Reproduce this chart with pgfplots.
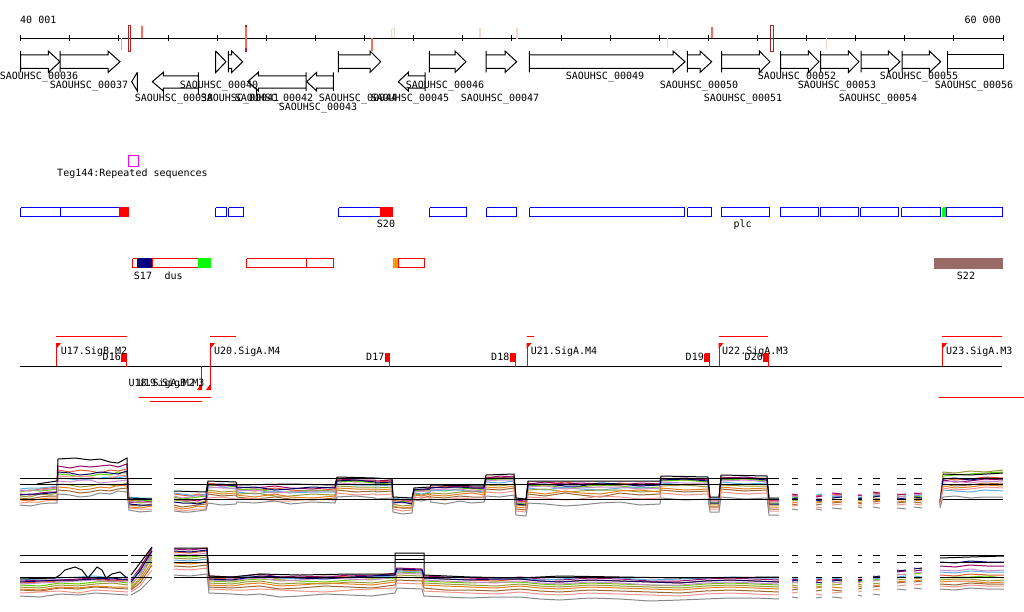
\documentclass[border=0pt]{standalone}
\usepackage{pgfplots}
\pgfplotsset{compat=1.18}
\usepackage{pgfplotstable}
\usepackage{fontspec}
\setmainfont{DejaVu Sans Mono}

\definecolor{dred}{HTML}{B22222}
\definecolor{salm}{HTML}{F26D5B}
\definecolor{lsalm}{HTML}{F5A08A}
\definecolor{pinkl}{HTML}{FAD4C8}
\definecolor{mag}{HTML}{FF00FF}
\definecolor{bluebx}{HTML}{0000FF}
\definecolor{navybx}{HTML}{000080}
\definecolor{grn}{HTML}{00FF00}
\definecolor{org}{HTML}{FF9900}
\definecolor{brn}{HTML}{9A6A66}
% expression series colours
\definecolor{q1}{HTML}{E4572E}
\definecolor{q2}{HTML}{66CC00}
\definecolor{q3}{HTML}{990066}
\definecolor{q4}{HTML}{5DADE2}
\definecolor{q5}{HTML}{999933}
\definecolor{q6}{HTML}{996633}
\definecolor{q7}{HTML}{CC88CC}
\definecolor{q8}{HTML}{000066}
\definecolor{q9}{HTML}{E67E22}
\definecolor{q10}{HTML}{F1948A}
\definecolor{q11}{HTML}{888888}

% expression track 1 (pixel x, pixel y)
\pgfplotstableread{
x s1 s2 s3 s4 s5 s6 s7 s8 s9 s10 s11
20 490 492 494 489 496 498 491 495 500 503 505
30 491 490 495 488 497 499 490 494 501 502 506
40 489 491 493 488 494 497 490 494 499 502 504
50 488 490 492 487 495 496 489 493 498 500 503
57 487 489 492 486 493 496 488 492 498 501 503
58 470 474 466 478 484 490 481 472 487 476 494
70 472 475 468 479 485 491 482 473 488 477 495
80 470 477 466 480 487 493 480 475 490 476 497
90 471 476 467 479 486 492 480 474 489 477 496
100 473 474 466 478 484 490 483 472 487 479 493
110 470 475 465 477 485 491 482 473 488 478 494
118 471 472 467 478 486 489 481 474 485 476 491
127 469 473 464 476 483 488 480 471 486 475 492
129 500 499 503 497 501 505 502 504 507 508 510
140 502 501 501 498 503 506 501 505 508 509 512
152 501 500 502 498 502 504 503 505 506 509 511
160 nan nan nan nan nan nan nan nan nan nan nan
174 494 497 499 493 500 505 496 502 507 509 511
182 495 499 500 494 501 507 498 503 509 511 512
190 496 498 500 495 502 506 497 503 508 510 512
198 494 497 501 496 503 505 495 504 506 509 511
206 495 496 498 494 501 504 496 502 507 509 510
208 483 486 484 488 490 494 487 485 492 498 503
222 485 485 486 487 492 496 488 484 494 497 505
236 484 487 485 489 491 495 488 486 493 499 504
237 489 490 487 492 494 497 491 488 495 499 502
255 491 489 488 494 493 499 490 487 497 498 503
275 488 492 486 491 496 497 493 490 494 501 501
290 490 492 488 493 496 499 492 489 497 501 504
312 491 490 489 492 494 500 491 487 498 499 502
335 489 491 487 492 495 498 491 488 496 500 503
337 480 482 479 484 486 490 483 481 488 493 497
356 482 481 480 485 487 492 484 480 489 495 496
375 481 483 480 485 487 491 484 482 489 494 498
376 482 484 481 486 488 492 485 483 490 495 499
392 481 483 480 485 487 491 484 482 489 494 498
393 500 502 499 498 504 507 501 503 506 509 512
402 502 501 500 499 506 508 503 502 508 511 514
412 501 503 500 499 505 508 502 504 507 510 513
414 490 491 489 493 494 497 492 490 495 498 500
422 491 490 490 494 495 498 491 489 496 497 501
430 489 490 488 492 493 496 491 489 494 497 499
431 488 490 487 491 493 497 490 488 495 499 502
445 486 491 488 490 494 498 489 487 496 500 504
460 487 489 486 490 492 496 489 487 494 498 501
472 489 488 487 492 491 497 491 488 493 499 503
484 488 490 487 491 493 497 490 488 495 499 502
486 477 480 478 482 485 489 481 479 487 492 496
500 478 479 476 483 486 490 480 478 488 493 497
514 476 479 477 481 484 488 480 478 486 491 495
516 501 503 500 499 505 509 502 504 507 511 515
526 502 504 501 500 506 510 503 505 508 512 516
528 483 486 484 488 490 494 487 485 492 497 503
545 485 485 482 490 489 496 486 484 494 498 504
565 482 488 484 487 492 493 489 486 491 500 506
580 484 487 483 489 491 495 488 486 493 499 505
600 486 485 484 490 490 497 487 483 494 496 503
620 483 486 485 488 490 493 487 484 491 497 502
640 485 488 483 487 492 495 489 486 490 499 505
660 484 487 484 489 491 494 488 485 492 498 504
661 478 481 479 483 486 490 482 480 488 493 498
685 480 480 478 485 485 492 483 479 490 495 500
708 479 482 480 484 487 491 483 481 489 494 499
710 500 502 499 498 504 507 501 503 506 509 512
719 500 502 499 498 504 507 501 503 506 509 512
721 477 480 478 482 485 489 481 479 487 492 497
745 479 479 477 484 486 491 480 478 489 494 499
767 478 481 479 483 486 490 482 480 488 493 498
769 501 503 500 499 505 509 502 504 507 511 515
779 501 503 500 499 505 509 502 504 507 511 515
785 nan nan nan nan nan nan nan nan nan nan nan
792 495 498 494 497 500 504 496 499 502 506 509
798 496 497 495 496 501 505 497 498 503 505 510
805 nan nan nan nan nan nan nan nan nan nan nan
816 496 499 497 495 501 505 498 500 503 507 509
822 495 500 496 494 502 504 499 501 502 508 510
826 nan nan nan nan nan nan nan nan nan nan nan
832 494 497 493 496 499 503 495 498 501 505 508
842 495 496 494 497 500 502 496 497 502 504 509
850 nan nan nan nan nan nan nan nan nan nan nan
858 495 498 496 497 500 503 494 499 502 505 507
862 496 497 495 498 501 504 495 498 503 506 508
867 nan nan nan nan nan nan nan nan nan nan nan
873 493 496 492 495 498 502 494 497 500 504 507
880 494 495 493 496 499 501 495 496 501 503 508
888 nan nan nan nan nan nan nan nan nan nan nan
897 494 497 495 496 499 503 496 498 501 505 508
906 495 496 494 497 500 502 497 499 502 504 509
910 nan nan nan nan nan nan nan nan nan nan nan
914 494 496 493 495 498 502 495 497 500 504 507
922 493 497 494 496 499 503 494 498 501 505 508
930 nan nan nan nan nan nan nan nan nan nan nan
940 502 503 501 500 504 506 502 503 505 507 508
943 478 476 480 490 472 484 482 479 486 488 497
955 480 475 482 491 473 486 481 478 488 490 496
970 479 474 481 492 471 485 483 480 487 489 498
985 477 473 479 490 472 483 481 478 485 487 497
1003 478 472 480 491 470 484 482 479 486 488 497
}\exprA

% expression track 2
\pgfplotstableread{
x s1 s2 s3 s4 s5 s6 s7 s8 s9 s10 s11
20 583 585 581 580 587 590 584 582 589 593 596
40 582 586 580 579 588 591 583 581 590 592 597
60 581 583 580 578 585 588 582 580 587 591 594
78 580 584 579 577 586 589 581 580 588 593 595
95 579 582 578 576 584 587 580 579 586 590 593
112 581 581 580 578 583 588 582 578 587 591 594
128 580 583 579 577 585 589 581 580 587 592 595
129.5 nan nan nan nan nan nan nan nan nan nan nan
131 583 586 580 578 588 590 584 582 589 592 595
140 570 574 568 572 578 583 575 571 580 586 590
152 550 555 548 560 557 565 553 551 562 570 578
160 nan nan nan nan nan nan nan nan nan nan nan
174 552 556 549 560 558 566 554 551 563 569 575
190 553 557 550 561 559 567 555 552 564 570 576
207 551 555 548 559 557 565 553 550 562 568 574
209 578 581 576 577 583 587 580 579 585 589 593
232 579 582 577 578 584 588 581 580 586 590 594
245 577 580 576 576 582 587 579 578 584 590 595
260 576 579 574 577 581 586 578 576 583 589 594
280 579 580 577 578 584 589 581 577 586 590 597
300 578 581 576 579 583 588 580 578 585 591 596
325 576 582 577 577 584 586 578 579 583 592 594
350 577 580 575 578 582 587 579 577 584 590 595
372 578 579 576 577 583 588 580 576 585 589 596
395 575 578 573 576 580 585 577 575 582 588 593
397 570 572 568 571 575 580 573 569 577 583 588
422 571 573 569 572 576 581 574 570 578 584 589
424 578 581 576 579 583 588 580 578 585 591 596
445 579 582 577 578 584 590 581 579 586 592 597
470 580 583 578 577 585 590 582 580 587 593 598
495 581 582 579 578 586 591 583 579 588 594 597
520 579 582 577 578 584 589 581 579 586 592 597
540 581 584 579 580 586 591 583 581 588 594 599
560 582 585 580 579 587 592 584 582 589 595 600
590 580 583 578 577 585 590 582 580 587 593 598
620 581 584 579 578 586 591 583 581 588 594 599
650 582 585 581 580 587 592 585 582 589 595 601
680 583 586 581 579 588 593 585 583 590 596 600
705 581 584 579 578 586 591 583 581 588 594 599
730 580 583 578 577 585 590 582 580 587 593 598
755 581 584 579 578 586 591 583 581 588 594 598
779 582 585 580 578 587 592 584 582 589 595 599
785 nan nan nan nan nan nan nan nan nan nan nan
792 580 583 579 578 585 590 582 581 587 593 597
798 581 582 580 579 586 589 583 580 588 592 598
805 nan nan nan nan nan nan nan nan nan nan nan
816 581 584 580 579 586 591 583 582 588 594 598
822 580 585 579 578 587 590 582 583 587 595 597
826 nan nan nan nan nan nan nan nan nan nan nan
832 580 583 579 578 585 590 582 581 587 593 597
842 581 582 580 579 584 591 583 580 588 592 598
850 nan nan nan nan nan nan nan nan nan nan nan
858 579 582 580 578 584 589 583 581 586 592 595
862 580 581 579 577 585 588 582 580 587 591 596
867 nan nan nan nan nan nan nan nan nan nan nan
873 576 580 578 579 583 587 581 577 585 590 594
880 577 579 577 578 584 586 580 576 586 589 595
888 nan nan nan nan nan nan nan nan nan nan nan
897 570 575 572 577 579 583 574 571 581 586 589
906 571 574 571 576 580 582 575 570 582 585 590
910 nan nan nan nan nan nan nan nan nan nan nan
914 568 574 571 576 578 582 573 569 580 585 588
922 569 573 570 577 579 581 572 568 581 584 589
930 nan nan nan nan nan nan nan nan nan nan nan
940 575 578 566 572 580 584 570 562 582 586 589
955 576 577 567 573 579 585 571 563 581 587 590
970 574 577 565 571 579 583 569 561 581 585 588
987 575 576 566 572 581 584 571 562 583 586 589
1004 575 578 566 572 580 584 570 562 582 586 589
}\exprB

% gene arrows: start, head start, tip  /  tip, head end, tail
\newcommand{\fwd}[3]{\addplot[black] coordinates {(#1,51)(#1,72.5)(#1,68.5)(#2,68.5)(#2,72.5)(#3,61.75)(#2,51)(#2,55)(#1,55)};}
\newcommand{\rev}[3]{\addplot[black] coordinates {(#3,72.3)(#3,91)(#3,88)(#2,88)(#2,91)(#1,81.7)(#2,72.3)(#2,76)(#3,76)};}
% box: style, x0, x1, y0, y1
\newcommand{\bx}[5]{\addplot[#1] coordinates {(#2,#4)(#3,#4)(#3,#5)(#2,#5)(#2,#4)};}
% reference lines of the expression tracks
\newcommand{\refA}[1]{\addplot[black] coordinates {(20,#1)(152,#1)(160,nan)(174,#1)(779,#1)(785,nan)(792,#1)(798,#1)(805,nan)(816,#1)(822,#1)(826,nan)(832,#1)(842,#1)(850,nan)(858,#1)(862,#1)(867,nan)(873,#1)(880,#1)(888,nan)(897,#1)(906,#1)(910,nan)(914,#1)(922,#1)(930,nan)(943,#1)(1003,#1)};}
\newcommand{\refB}[1]{\addplot[black] coordinates {(20,#1)(128,#1)(129.5,nan)(131,#1)(152,#1)(160,nan)(174,#1)(779,#1)(785,nan)(792,#1)(798,#1)(805,nan)(816,#1)(822,#1)(826,nan)(832,#1)(842,#1)(850,nan)(858,#1)(862,#1)(867,nan)(873,#1)(880,#1)(888,nan)(897,#1)(906,#1)(910,nan)(914,#1)(922,#1)(930,nan)(940,#1)(1004,#1)};}

\tikzset{lbl/.style={font=\fontsize{10bp}{12bp}\selectfont, inner sep=0pt, text=black}}

\begin{document}
\begin{tikzpicture}
\begin{axis}[
    name=main,
    width=1024bp, height=611bp, scale only axis,
    xmin=0, xmax=1024, ymin=0, ymax=611,
    y dir=reverse,
    hide axis, clip=false,
    unbounded coords=jump,
    every axis plot/.append style={line width=1bp},
]
% ruler
\addplot[black] coordinates {(20.7,38.3)(1003,38.3)};
\addplot[black] coordinates {
 (20.7,35.5)(20.7,41)(40,nan)(69.8,35.5)(69.8,41)(90,nan)(118.9,35.5)(118.9,41)(140,nan)
 (168.0,35.5)(168.0,41)(190,nan)(217.2,35.5)(217.2,41)(240,nan)(266.3,35.5)(266.3,41)(290,nan)
 (315.4,35.5)(315.4,41)(340,nan)(364.5,35.5)(364.5,41)(390,nan)(413.6,35.5)(413.6,41)(440,nan)
 (462.7,35.5)(462.7,41)(490,nan)(511.9,35.5)(511.9,41)(540,nan)(561.0,35.5)(561.0,41)(590,nan)
 (610.1,35.5)(610.1,41)(630,nan)(659.2,35.5)(659.2,41)(680,nan)(708.3,35.5)(708.3,41)(730,nan)
 (757.4,35.5)(757.4,41)(780,nan)(806.5,35.5)(806.5,41)(830,nan)(855.7,35.5)(855.7,41)(880,nan)
 (904.8,35.5)(904.8,41)(930,nan)(953.9,35.5)(953.9,41)(980,nan)(1003,35.5)(1003,41)};
\node[lbl, anchor=base west] at (axis cs:20,24) {40 001};
\node[lbl, anchor=base east] at (axis cs:1001,24) {60 000};
% marks on the ruler
\bx{draw=dred}{128.3}{130.7}{25.5}{51.5}
\bx{draw=dred}{770.5}{773}{25.5}{51.5}
\addplot[lsalm] coordinates {(121.5,38)(121.5,50)};
\addplot[salm, line width=2bp] coordinates {(142,26)(142,38)};
\addplot[salm, line width=2bp] coordinates {(246,25)(246,52)};
\addplot[dred, line width=2bp] coordinates {(246,48.5)(246,52)};
\addplot[dred, line width=2bp] coordinates {(246,25)(246,27)};
\addplot[salm, line width=2bp] coordinates {(371.7,38)(371.7,51)};
\bx{draw=pinkl}{391.5}{394}{29}{38}
\addplot[pinkl, line width=2bp] coordinates {(480,28)(480,38)};
\addplot[pinkl, line width=2bp] coordinates {(516.7,28)(516.7,39)};
\addplot[pinkl] coordinates {(667.7,38)(667.7,48)};
\addplot[salm, line width=2bp] coordinates {(711.7,27)(711.7,38)};
\addplot[pinkl] coordinates {(826.7,38)(826.7,50)};

% genes, forward strand
\fwd{20.7}{48.3}{60}
\fwd{60}{108}{120}
\addplot[black] coordinates {(215.7,51)(215.7,72.5)(226,61.75)(215.7,51)};
\fwd{228.3}{231.7}{242.7}
\fwd{338.3}{370}{380.7}
\fwd{429.3}{455}{466}
\fwd{486}{505}{516.7}
\fwd{529.3}{673}{685}
\fwd{687.3}{700}{711.7}
\fwd{721.7}{759.3}{770}
\fwd{780.7}{808.3}{819}
\fwd{820.7}{848.3}{859}
\fwd{861}{888.3}{900}
\fwd{902}{929.3}{940.7}
\addplot[black] coordinates {(947.7,51)(947.7,72.5)(947.7,68.5)(1003.3,68.5)(1003.3,55)(947.7,55)};
% genes, reverse strand
\addplot[black] coordinates {(137.3,72.3)(137.3,91)(131.7,81.7)(137.3,72.3)};
\rev{152.3}{163.3}{198.3}
\rev{247.7}{258.3}{306}
\rev{306.7}{316.7}{333.3}
\rev{398.3}{408.3}{425}
\addplot[black] coordinates {(163.3,88)(163.3,95)};
\addplot[black] coordinates {(198.3,88)(198.3,95)};
\addplot[black] coordinates {(256.7,88)(256.7,96)};
% gene labels
\node[lbl, anchor=base] at (axis cs:39,79.5) {SAOUHSC\_00036};
\node[lbl, anchor=base] at (axis cs:605,79.5) {SAOUHSC\_00049};
\node[lbl, anchor=base] at (axis cs:797,79.5) {SAOUHSC\_00052};
\node[lbl, anchor=base] at (axis cs:919,79.5) {SAOUHSC\_00055};
\node[lbl, anchor=base] at (axis cs:89,89) {SAOUHSC\_00037};
\node[lbl, anchor=base] at (axis cs:219,89) {SAOUHSC\_00040};
\node[lbl, anchor=base] at (axis cs:445,89) {SAOUHSC\_00046};
\node[lbl, anchor=base] at (axis cs:699,89) {SAOUHSC\_00050};
\node[lbl, anchor=base] at (axis cs:837,89) {SAOUHSC\_00053};
\node[lbl, anchor=base] at (axis cs:974,89) {SAOUHSC\_00056};
\node[lbl, anchor=base] at (axis cs:174,101) {SAOUHSC\_00038};
\node[lbl, anchor=base] at (axis cs:240,101) {SAOUHSC\_00041};
\node[lbl, anchor=base] at (axis cs:274,101) {SAOUHSC\_00042};
\node[lbl, anchor=base] at (axis cs:358,101) {SAOUHSC\_00044};
\node[lbl, anchor=base] at (axis cs:410,101) {SAOUHSC\_00045};
\node[lbl, anchor=base] at (axis cs:500,101) {SAOUHSC\_00047};
\node[lbl, anchor=base] at (axis cs:743,101) {SAOUHSC\_00051};
\node[lbl, anchor=base] at (axis cs:878,101) {SAOUHSC\_00054};
\node[lbl, anchor=base] at (axis cs:318,110) {SAOUHSC\_00043};

% repeated sequence
\bx{draw=mag}{128.3}{138.3}{155.5}{166.5}
\node[lbl, anchor=base] at (axis cs:132.5,176) {Teg144:Repeated sequences};

% blue features
\bx{draw=bluebx}{20.8}{60}{207.8}{216.8}
\bx{draw=bluebx}{60}{119}{207.8}{216.8}
\bx{fill=red, draw=red}{119}{128.2}{207.8}{216.8}
\bx{draw=bluebx}{215.5}{226}{207.8}{216.8}
\bx{draw=bluebx}{228.5}{243}{207.8}{216.8}
\bx{draw=bluebx}{338.5}{380}{207.8}{216.8}
\bx{fill=red, draw=red}{380}{392.5}{207.8}{216.8}
\bx{draw=bluebx}{429.5}{466}{207.8}{216.8}
\bx{draw=bluebx}{486.5}{516.5}{207.8}{216.8}
\bx{draw=bluebx}{529.5}{684}{207.8}{216.8}
\bx{draw=bluebx}{687.5}{711}{207.8}{216.8}
\bx{draw=bluebx}{721}{769}{207.8}{216.8}
\bx{draw=bluebx}{780}{818}{207.8}{216.8}
\bx{draw=bluebx}{820}{858}{207.8}{216.8}
\bx{draw=bluebx}{860.5}{898.5}{207.8}{216.8}
\bx{draw=bluebx}{901.5}{940}{207.8}{216.8}
\bx{fill=grn, draw=grn}{942.5}{945.5}{207.8}{216.8}
\bx{draw=bluebx}{946}{1002}{207.8}{216.8}
\node[lbl, anchor=base] at (axis cs:386,227.5) {S20};
\node[lbl, anchor=base] at (axis cs:742.7,227) {plc};

% red features
\bx{draw=red}{132.5}{152}{258.8}{267.8}
\bx{fill=navybx, draw=navybx}{137.2}{152}{258.8}{267.8}
\bx{draw=red}{152}{198}{258.8}{267.8}
\bx{fill=grn, draw=grn}{198}{210.7}{258.8}{267.8}
\bx{draw=red}{246.5}{306}{258.8}{267.8}
\bx{draw=red}{306}{333}{258.8}{267.8}
\bx{fill=org, draw=org}{393.2}{398.3}{258.8}{267.8}
\bx{draw=red}{398.3}{424.5}{258.8}{267.8}
\bx{fill=brn, draw=brn}{934}{1002}{258.5}{268.3}
\node[lbl, anchor=base] at (axis cs:143,279) {S17};
\node[lbl, anchor=base] at (axis cs:173.7,279) {dus};
\node[lbl, anchor=base] at (axis cs:966,279) {S22};

% promoter / terminator track
\addplot[black] coordinates {(20.3,366)(1002.3,366)};
\addplot[red] coordinates {(56,336)(127,336)};
\addplot[red] coordinates {(210,336)(236,336)};
\addplot[red] coordinates {(526.7,336)(533.7,336)};
\addplot[red] coordinates {(718.7,336)(768.3,336)};
\addplot[red] coordinates {(942.3,336)(1002.3,336)};
\addplot[red] coordinates {(139,397)(210.7,397)};
\addplot[red] coordinates {(150,401)(201.7,401)};
\addplot[red] coordinates {(939.3,397)(1024,397)};
% start sites (forward)
\addplot[red] coordinates {(56.5,343)(56.5,366)};
\addplot[fill=red, draw=none] coordinates {(56,343)(61,343)(56,349)};
\addplot[red] coordinates {(210.5,343)(210.5,366)};
\addplot[fill=red, draw=none] coordinates {(210,343)(215,343)(210,349)};
\addplot[red] coordinates {(527,343)(527,366)};
\addplot[fill=red, draw=none] coordinates {(526.5,343)(531.5,343)(526.5,349)};
\addplot[red] coordinates {(719,343)(719,366)};
\addplot[fill=red, draw=none] coordinates {(718.5,343)(723.5,343)(718.5,349)};
\addplot[red] coordinates {(942.7,343)(942.7,366)};
\addplot[fill=red, draw=none] coordinates {(942.2,343)(947.2,343)(942.2,349)};
% start sites (reverse)
\addplot[red] coordinates {(201,366)(201,390)};
\addplot[fill=red, draw=none] coordinates {(201.5,383)(201.5,390)(197,390)};
\addplot[red] coordinates {(210.5,366)(210.5,390)};
\addplot[fill=red, draw=none] coordinates {(211,383)(211,390)(206,390)};
% terminators
\bx{fill=red, draw=red}{121.5}{126}{353.5}{361.5}
\addplot[red] coordinates {(126.5,353)(126.5,367)};
\bx{fill=red, draw=red}{385}{389.2}{353.5}{361.5}
\addplot[red] coordinates {(389.7,353)(389.7,367)};
\bx{fill=red, draw=red}{510}{514.5}{353.5}{361.5}
\addplot[red] coordinates {(515,353)(515,367)};
\bx{fill=red, draw=red}{704.5}{709}{353.5}{361.5}
\addplot[red] coordinates {(709.5,353)(709.5,367)};
\bx{fill=red, draw=red}{763.8}{767.8}{353.5}{361.5}
\addplot[red] coordinates {(768.3,353)(768.3,367)};
\node[lbl, anchor=base west] at (axis cs:60.7,354.3) {U17.SigB.M2};
\node[lbl, anchor=base west] at (axis cs:214,354.3) {U20.SigA.M4};
\node[lbl, anchor=base west] at (axis cs:530.7,354.3) {U21.SigA.M4};
\node[lbl, anchor=base west] at (axis cs:722,354.3) {U22.SigA.M3};
\node[lbl, anchor=base west] at (axis cs:946,354.3) {U23.SigA.M3};
\node[lbl, anchor=base east] at (axis cs:121,360.7) {D16};
\node[lbl, anchor=base east] at (axis cs:384.5,360.7) {D17};
\node[lbl, anchor=base east] at (axis cs:509.5,360.7) {D18};
\node[lbl, anchor=base east] at (axis cs:704,360.7) {D19};
\node[lbl, anchor=base east] at (axis cs:763,360.7) {D20};
\node[lbl, anchor=base east] at (axis cs:195,386.7) {U18.SigA.M2};
\node[lbl, anchor=base east] at (axis cs:204.5,386.7) {U19.SigB.M3};

% expression tracks
\pgfplotsinvokeforeach{1,...,11}{
  \addplot[color=q#1] table[x=x, y=s#1] {\exprA};
  \addplot[color=q#1] table[x=x, y=s#1] {\exprB};
}
\addplot[black] coordinates {(37,484)(57,481)(58,459)(75,458)(90,460)(100,459)(110,462)(118,463)(127,458)(128,498)(152,499)(160,nan)
 (174,491)(206,492)(208,481)(236,482)(237,485)(290,484)(335,485)(337,477)(375,478)(392,479)(393,497)(412,498)(414,488)(430,487)
 (431,485)(484,486)(486,475)(514,474)(516,498)(526,499)(528,481)(660,481)(661,476)(708,477)(710,497)(719,497)(721,475)(767,476)
 (769,498)(779,498)(785,nan)(943,474)(970,475)(1003,473)};
\addplot[black] coordinates {(20,579)(55,578)(60,575)(65,570)(75,567)(82,570)(88,578)(93,572)(97,567)(102,570)(106,578)(112,574)
 (120,572)(127,578)(129.5,nan)(131,575)(152,547)(160,nan)(174,548)(207,548)(209,576)(232,577)(260,574)(300,575)(350,574)(395,574)
 (395,553)(424,553)(424,575)(470,577)(520,578)(560,576)(680,578)(779,577)(785,nan)(940,558)(970,557)(1004,556)};
\addplot[black] coordinates {(395,559)(424,559)};
\refA{478.3}
\refA{484}
\refA{499.3}
\refB{555.3}
\refB{562.3}
\refB{577}
\end{axis}
\pgfresetboundingbox
\useasboundingbox (main.south west) rectangle (main.north east);
\end{tikzpicture}
\end{document}
